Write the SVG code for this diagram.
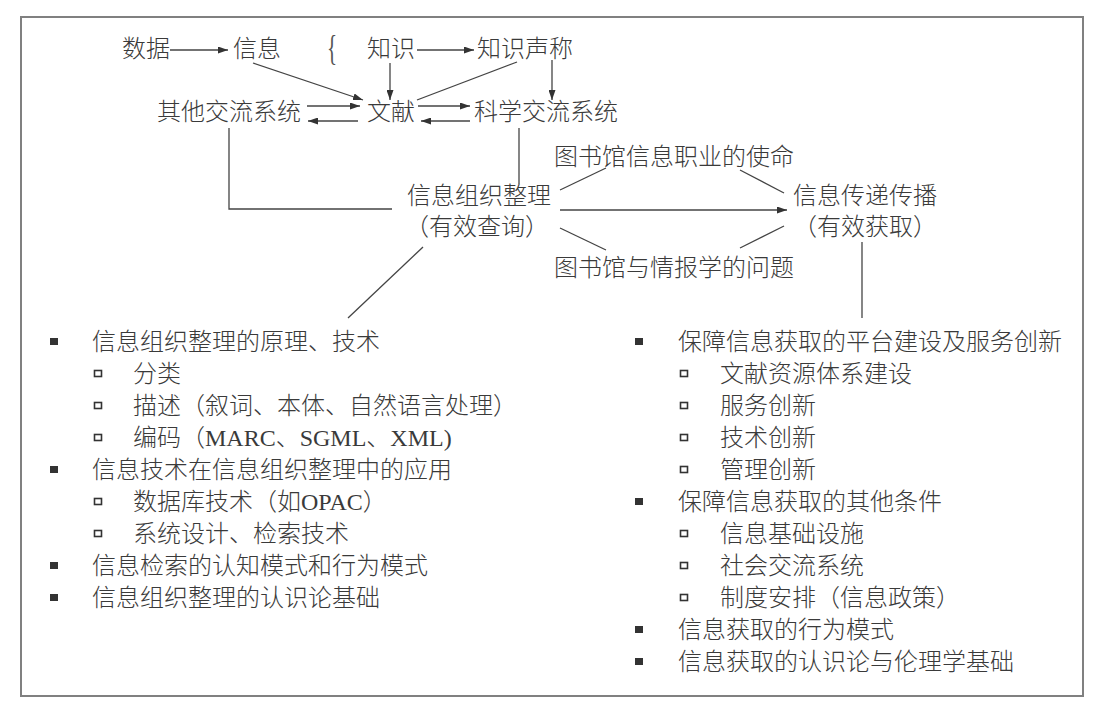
<svg xmlns="http://www.w3.org/2000/svg" width="1106" height="720" viewBox="0 0 1106 720">
<style>
text{font-family:"Liberation Serif","Noto Sans CJK SC",serif;font-size:24px;fill:#3a3a3a;font-weight:300}
.c{text-anchor:middle}
.ln{stroke:#444;stroke-width:1.3;fill:none}
.ar{marker-end:url(#ah)}
.b1{fill:#333}
.b2{fill:none;stroke:#333;stroke-width:1.6}
</style>
<defs>
<marker id="ah" viewBox="0 0 10 7" refX="10" refY="3.5" markerWidth="10" markerHeight="7" markerUnits="userSpaceOnUse" orient="auto">
<path d="M0,0 L10,3.5 L0,7 z" fill="#333"/>
</marker>
</defs>
<rect x="0" y="0" width="1106" height="720" fill="#fff"/>
<rect x="21" y="17" width="1062" height="679" fill="none" stroke="#808080" stroke-width="2"/>

<g id="connectors">
<path class="ln ar" d="M170,50 L228,50"/>
<path class="ln ar" d="M417,50 L474,50"/>
<path class="ln ar" d="M253,63 L363,100"/>
<path class="ln ar" d="M390,63 L390,100"/>
<path class="ln" d="M517,62 L417,100"/>
<path class="ln ar" d="M552,60 L552,100"/>
<path class="ln ar" d="M307,106 L360,106"/>
<path class="ln ar" d="M358,121 L308,121"/>
<path class="ln ar" d="M418,106 L470,106"/>
<path class="ln ar" d="M470,121 L421,121"/>
<path class="ln" d="M229,128 L229,209 L392,209"/>
<path class="ln" d="M519,128 L519,184"/>
<path class="ln ar" d="M560,210 L787,210"/>
<path class="ln" d="M560,190 L606,168"/>
<path class="ln" d="M740,170 L784,193"/>
<path class="ln" d="M560,228 L606,250"/>
<path class="ln" d="M740,248 L784,226"/>
<path class="ln" d="M423,247 L348,318"/>
<path class="ln" d="M862,242 L862,318"/>
</g>

<g id="n-shuju"><text x="122" y="57">数据</text></g>
<g id="n-xinxi"><text x="233" y="57">信息</text></g>
<g id="n-brace"><text transform="translate(327,60) scale(0.7,1.2)" x="0" y="0" style="font-size:30px;font-family:'Liberation Serif',serif;font-weight:normal;fill:#555">{</text></g>
<g id="n-zhishi"><text x="367" y="57">知识</text></g>
<g id="n-zhishishengcheng"><text x="477" y="57">知识声称</text></g>
<g id="n-qita"><text x="157" y="120">其他交流系统</text></g>
<g id="n-wenxian"><text x="367" y="120">文献</text></g>
<g id="n-kexue"><text x="474" y="120">科学交流系统</text></g>
<g id="n-shiming"><text class="c" x="674" y="165">图书馆信息职业的使命</text></g>
<g id="n-zuzhi"><text class="c" x="479" y="204">信息组织整理</text><text class="c" x="477" y="235">（有效查询）</text></g>
<g id="n-chuandi"><text class="c" x="865" y="204">信息传递传播</text><text class="c" x="865" y="235">（有效获取）</text></g>
<g id="n-wenti"><text class="c" x="674" y="276">图书馆与情报学的问题</text></g>

<g id="n-left-list">
<rect class="b1" x="50" y="338" width="8" height="7"/><text x="92" y="350">信息组织整理的原理、技术</text>
<rect class="b2" x="94.5" y="370.5" width="7" height="6"/><text x="133" y="382">分类</text>
<rect class="b2" x="94.5" y="402.5" width="7" height="6"/><text x="133" y="414">描述（叙词、本体、自然语言处理）</text>
<rect class="b2" x="94.5" y="434.5" width="7" height="6"/><text x="133" y="446">编码（MARC、SGML、XML)</text>
<rect class="b1" x="50" y="466" width="8" height="7"/><text x="92" y="478">信息技术在信息组织整理中的应用</text>
<rect class="b2" x="94.5" y="498.5" width="7" height="6"/><text x="133" y="510">数据库技术（如OPAC）</text>
<rect class="b2" x="94.5" y="530.5" width="7" height="6"/><text x="133" y="542">系统设计、检索技术</text>
<rect class="b1" x="50" y="562" width="8" height="7"/><text x="92" y="574">信息检索的认知模式和行为模式</text>
<rect class="b1" x="50" y="594" width="8" height="7"/><text x="92" y="606">信息组织整理的认识论基础</text>
</g>

<g id="n-right-list">
<rect class="b1" x="635" y="338" width="8" height="7"/><text x="678" y="350">保障信息获取的平台建设及服务创新</text>
<rect class="b2" x="680.5" y="370.5" width="7" height="6"/><text x="720" y="382">文献资源体系建设</text>
<rect class="b2" x="680.5" y="402.5" width="7" height="6"/><text x="720" y="414">服务创新</text>
<rect class="b2" x="680.5" y="434.5" width="7" height="6"/><text x="720" y="446">技术创新</text>
<rect class="b2" x="680.5" y="466.5" width="7" height="6"/><text x="720" y="478">管理创新</text>
<rect class="b1" x="635" y="498" width="8" height="7"/><text x="678" y="510">保障信息获取的其他条件</text>
<rect class="b2" x="680.5" y="530.5" width="7" height="6"/><text x="720" y="542">信息基础设施</text>
<rect class="b2" x="680.5" y="562.5" width="7" height="6"/><text x="720" y="574">社会交流系统</text>
<rect class="b2" x="680.5" y="594.5" width="7" height="6"/><text x="720" y="606">制度安排（信息政策）</text>
<rect class="b1" x="635" y="626" width="8" height="7"/><text x="678" y="638">信息获取的行为模式</text>
<rect class="b1" x="635" y="658" width="8" height="7"/><text x="678" y="670">信息获取的认识论与伦理学基础</text>
</g>
</svg>
